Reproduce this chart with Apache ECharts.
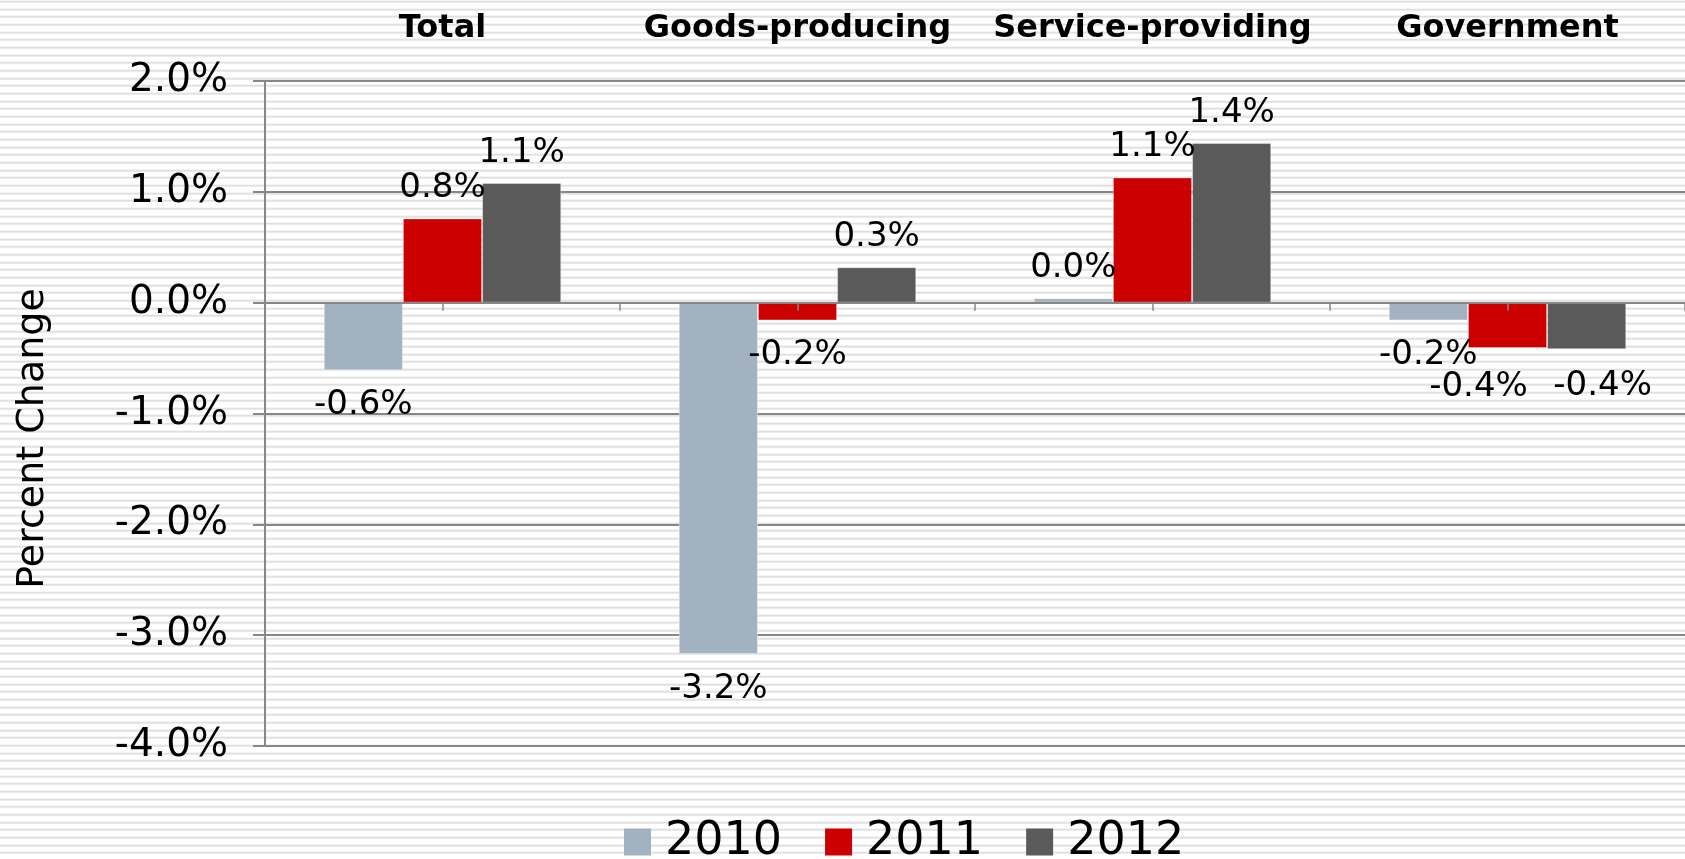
<!DOCTYPE html>
<html>
<head>
<meta charset="utf-8">
<script src="https://cdn.jsdelivr.net/npm/echarts@6/dist/echarts.min.js"></script>
<style>
  html, body { margin: 0; padding: 0; }
  body {
    width: 1685px; height: 859px; overflow: hidden;
    background: repeating-linear-gradient(180deg,
      #e0e0e0 0px, #e0e0e0 2px, #ffffff 2px, #ffffff 7.67px);
    background-position: 0 0.7px;
  }
  #chart { width: 1685px; height: 859px; }
</style>
</head>
<body>
<div id="chart"></div>
<script>
// Annual percent change in employment by sector
const categories = ['Total', 'Goods-producing', 'Service-providing', 'Government'];
const seriesNames = ['2010', '2011', '2012'];
const values2010 = [-0.61, -3.17, 0.04, -0.16];
const values2011 = [0.76, -0.16, 1.13, -0.41];
const values2012 = [1.08, 0.32, 1.44, -0.42];
const yMin = -4.0, yMax = 2.0, yStep = 1.0;

const colors = ['#A3B2C1', '#CC0000', '#5A5A5A'];
const axisGray = '#878787';
const fontFamily = '"DejaVu Sans", Verdana, sans-serif';

// Labels sit outside the bar end: above positive bars, below negative ones
function toItems(vals) {
  return vals.map(v => ({
    value: v,
    label: v >= 0 ? { position: 'top', distance: 13 } : { position: 'bottom', distance: 18 }
  }));
}

// Small nudges for the crowded Government labels
const nudges = {
  1: { 3: { dx: -29, dy: 4 } },
  2: { 3: { dx: 16, dy: 2 } }
};

function makeSeries(name, vals, idx) {
  return {
    name: name,
    type: 'bar',
    xAxisIndex: 0,
    yAxisIndex: 0,
    data: toItems(vals),
    barWidth: '22.3%',
    barGap: '0%',
    z: 2,
    itemStyle: { color: colors[idx], borderColor: 'rgba(255,255,255,0.35)', borderWidth: 1 },
    label: {
      show: true,
      color: '#000',
      fontFamily: fontFamily,
      fontSize: 34,
      formatter: p => p.value.toFixed(1) + '%'
    },
    labelLayout: function (p) {
      const n = nudges[idx] && nudges[idx][p.dataIndex];
      return n ? { dx: n.dx, dy: n.dy } : {};
    }
  };
}

const chart = echarts.init(document.getElementById('chart'), null, { renderer: 'canvas' });
chart.setOption({
  backgroundColor: 'transparent',
  animation: false,
  color: colors,
  grid: { left: 265, right: 0, top: 81, bottom: 113, containLabel: false },
  legend: {
    data: seriesNames,
    left: 619,
    top: 814,
    icon: 'rect',
    itemWidth: 27,
    itemHeight: 27,
    itemGap: 43,
    itemStyle: { borderWidth: 0 },
    formatter: name => '{t|' + name + '}',
    textStyle: {
      rich: {
        t: { fontFamily: fontFamily, fontSize: 46, color: '#000', padding: [0, 0, 0, 9] }
      }
    }
  },
  xAxis: [
    {
      // zero line with boundary ticks
      type: 'category',
      data: categories,
      position: 'bottom',
      z: 5,
      axisLine: { show: true, onZero: true, onZeroAxisIndex: 0, lineStyle: { color: axisGray, width: 2 } },
      axisTick: { show: true, inside: false, length: 8, lineStyle: { color: axisGray, width: 1.5 } },
      axisLabel: { show: false },
      splitLine: { show: false }
    },
    {
      // mid-category ticks, also sitting on the zero line
      type: 'category',
      data: categories,
      position: 'bottom',
      z: 5,
      axisLine: { show: true, onZero: true, onZeroAxisIndex: 1, lineStyle: { color: axisGray, width: 2, opacity: 0 } },
      axisTick: { show: true, alignWithLabel: true, length: 8, lineStyle: { color: axisGray, width: 1.5 } },
      axisLabel: { show: false },
      splitLine: { show: false }
    },
    {
      // sector headings above the plot
      type: 'category',
      data: categories,
      position: 'top',
      axisLine: { show: false, onZero: false },
      axisTick: { show: false },
      axisLabel: {
        show: true,
        interval: 0,
        margin: 36,
        color: '#000',
        fontFamily: fontFamily,
        fontWeight: 'bold',
        fontSize: 32
      },
      splitLine: { show: false }
    }
  ],
  yAxis: [
    {
      type: 'value',
      min: yMin,
      max: yMax,
      interval: yStep,
      position: 'left',
      name: 'Percent Change',
      nameLocation: 'middle',
      nameRotate: 90,
      nameGap: 213,
      nameTextStyle: { fontFamily: fontFamily, fontSize: 38, color: '#000', padding: [0, 50, 0, 0] },
      axisLine: { show: true, lineStyle: { color: axisGray, width: 2 } },
      axisTick: { show: true, inside: false, length: 12, lineStyle: { color: axisGray, width: 2 } },
      axisLabel: {
        margin: 37,
        color: '#000',
        fontFamily: fontFamily,
        fontSize: 39,
        formatter: v => v.toFixed(1) + '%'
      },
      splitLine: { show: true, lineStyle: { color: axisGray, width: 2 } }
    },
    {
      // same scale, only used to anchor the mid-category ticks at zero
      type: 'value',
      min: yMin,
      max: yMax,
      interval: yStep,
      position: 'left',
      axisLine: { show: false },
      axisTick: { show: false },
      axisLabel: { show: false },
      splitLine: { show: false }
    }
  ],
  series: [
    makeSeries(seriesNames[0], values2010, 0),
    makeSeries(seriesNames[1], values2011, 1),
    makeSeries(seriesNames[2], values2012, 2)
  ]
});
</script>
</body>
</html>
